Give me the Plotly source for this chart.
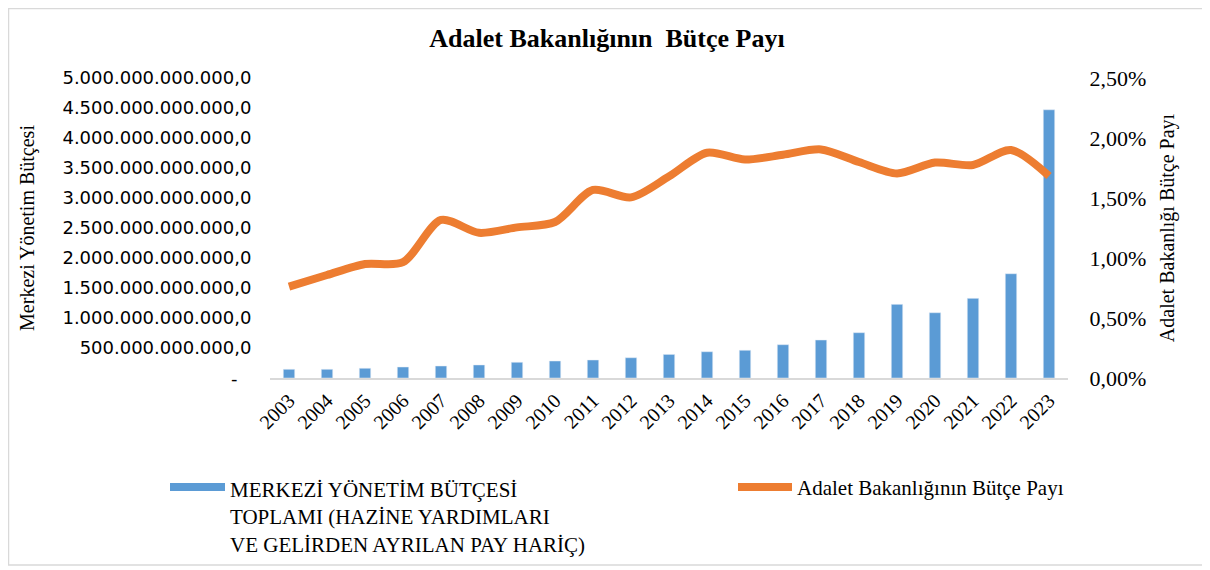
import plotly.graph_objects as go

years = [str(y) for y in range(2003, 2024)]
budget = [145e9, 145e9, 162e9, 183e9, 200e9, 217e9, 262e9, 283e9, 300e9, 338e9,
          393e9, 438e9, 462e9, 555e9, 633e9, 755e9, 1228e9, 1088e9, 1328e9, 1738e9, 4470e9]
share = [0.761, 0.858, 0.950, 0.965, 1.317, 1.210, 1.255, 1.300, 1.567, 1.505,
         1.680, 1.877, 1.820, 1.860, 1.905, 1.800, 1.705, 1.795, 1.775, 1.900, 1.683]
share = [v / 100 for v in share]

left_vals = [i * 500e9 for i in range(11)]
left_text = ["-", "500.000.000.000,0", "1.000.000.000.000,0", "1.500.000.000.000,0",
             "2.000.000.000.000,0", "2.500.000.000.000,0", "3.000.000.000.000,0",
             "3.500.000.000.000,0", "4.000.000.000.000,0", "4.500.000.000.000,0",
             "5.000.000.000.000,0"]
right_vals = [0, 0.005, 0.01, 0.015, 0.02, 0.025]
right_text = ["0,00%", "0,50%", "1,00%", "1,50%", "2,00%", "2,50%"]

bar_name_lines = ["MERKEZİ YÖNETİM BÜTÇESİ", "TOPLAMI (HAZİNE YARDIMLARI",
                  "VE GELİRDEN AYRILAN PAY HARİÇ)"]
line_name = "Adalet Bakanlığının Bütçe Payı"
chart_title = "Adalet Bakanlığının  Bütçe Payı"
left_title = "Merkezi Yönetim Bütçesi"
right_title = "Adalet Bakanlığı Bütçe Payı"

W, H = 1210, 570
OFF = 8  # page body margin
L, R, T, B = 270 - OFF, 1068 - OFF, 78 - OFF, 378 - OFF
pw, ph = R - L, B - T

def px(x):
    return (x - OFF - L) / pw

def py(y):
    return (B - (y - OFF)) / ph

BLUE = "#5B9BD5"
ORANGE = "#ED7D31"
SERIF = "Liberation Serif, Times New Roman, serif"

fig = go.Figure()
fig.add_trace(go.Bar(x=years, y=budget, marker_color=BLUE, name=" ".join(bar_name_lines),
                     yaxis="y", showlegend=False))
fig.add_trace(go.Scatter(x=years, y=share, mode="lines", name=line_name,
                         line=dict(color=ORANGE, width=8, shape="spline", smoothing=0.8),
                         yaxis="y2", showlegend=False))

fig.update_layout(
    width=W, height=H,
    margin=dict(l=L, r=W - R, t=T, b=H - B),
    paper_bgcolor="white", plot_bgcolor="white",
    bargap=0.7,
    title=dict(text="<b>" + chart_title + "</b>", x=(607 - OFF) / W, xanchor="center",
               y=1 - (38 - OFF) / H, yanchor="middle", yref="container",
               font=dict(family=SERIF, size=26, color="black")),
    xaxis=dict(type="category", range=[-0.5, 20.5], showgrid=False,
               showline=True, linecolor="#D9D9D9", linewidth=2,
               tickangle=-45, tickfont=dict(family=SERIF, size=20, color="black"),
               ticks="outside", ticklen=1, tickcolor="rgba(0,0,0,0)"),
    yaxis=dict(range=[0, 5e12], tickvals=left_vals[1:], ticktext=left_text[1:], showgrid=False,
               zeroline=False, showline=False, ticks="outside", ticklen=14,
               tickcolor="rgba(0,0,0,0)",
               tickfont=dict(family="DejaVu Sans, sans-serif", size=18, color="black"),
               title=dict(text=left_title, standoff=22,
                          font=dict(family=SERIF, size=20, color="black"))),
    yaxis2=dict(range=[0, 0.025], tickvals=right_vals, ticktext=right_text, overlaying="y",
                side="right", showgrid=False, zeroline=False, showline=False,
                ticks="outside", ticklen=16, tickcolor="rgba(0,0,0,0)",
                tickfont=dict(family=SERIF, size=22, color="black"),
                title=dict(text=right_title, standoff=14,
                           font=dict(family=SERIF, size=20, color="black"))),
)

shapes = [
    dict(type="rect", xref="paper", yref="paper", x0=px(8.5), x1=px(1205), y0=py(565), y1=py(8.5),
         line=dict(color="#D9D9D9", width=1.5), fillcolor="rgba(0,0,0,0)", layer="below"),
    dict(type="rect", xref="paper", yref="paper", x0=px(170), x1=px(225), y0=py(491), y1=py(483),
         line=dict(width=0), fillcolor=BLUE),
    dict(type="line", xref="paper", yref="paper", x0=px(738), x1=px(792), y0=py(487), y1=py(487),
         line=dict(color=ORANGE, width=8)),
]
fig.update_layout(shapes=shapes)

# zero label of the left axis ("-"), placed like the original's padded format
fig.add_annotation(xref="paper", yref="y", x=px(240), y=left_vals[0], xanchor="right",
                   yanchor="middle", text=left_text[0], showarrow=False,
                   font=dict(family="DejaVu Sans, sans-serif", size=18, color="black"))

fig.add_annotation(xref="paper", yref="paper", x=px(228), y=py(476),
                   xanchor="left", yanchor="top", text="<br>".join(bar_name_lines),
                   showarrow=False, align="left",
                   font=dict(family=SERIF, size=21, color="black"))
fig.add_annotation(xref="paper", yref="paper", x=px(795), y=py(488), xanchor="left",
                   yanchor="middle", text=line_name, showarrow=False,
                   font=dict(family=SERIF, size=21, color="black"))

fig.write_html("out.html")
